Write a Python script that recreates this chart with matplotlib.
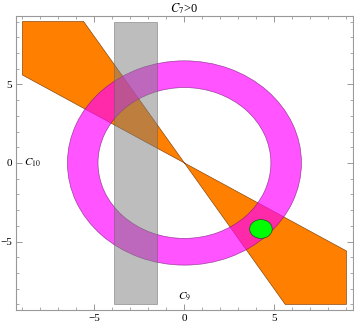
import matplotlib
matplotlib.use('Agg')
import matplotlib.pyplot as plt
from matplotlib.patches import Polygon, Rectangle, Wedge, Ellipse
from matplotlib.ticker import MultipleLocator

plt.rc('font', family='Liberation Serif', size=8)
plt.rc('mathtext', fontset='stix')

# Data ========================================================================
# orange double wedge through the origin, clipped to the [-9, 9] box
orange_x = [-9, -5.6, 5.6, 9, 9, -9]
orange_y = [9, 9, -9, -9, -5.6, 5.6]

# grey vertical band
band_x = [-3.9, -1.5]
band_y = [-9, 9]

# magenta ring
ring_center = (0.0, 0.0)
ring_r_in = 4.8
ring_r_out = 6.5

# green point
green_center = (4.25, -4.2)
green_w = 1.25
green_h = 1.2

lim = 9.36


def fmt(v, pos):
    return '%d' % v if v >= 0 else '\u2212%d' % -v


# Plot ========================================================================
fig = plt.figure(figsize=(3.54, 3.24), dpi=100)
ax = fig.add_axes([0.045, 0.043, 0.952, 0.908])

ax.add_patch(Polygon(list(zip(orange_x, orange_y)), closed=True,
                     facecolor='#ff8000', edgecolor='#8a4a10', lw=0.5, zorder=1))
ax.add_patch(Wedge(ring_center, ring_r_out, 0, 360, width=ring_r_out - ring_r_in,
                   facecolor=(1, 0, 1, 0.67), edgecolor=(0.45, 0.1, 0.45, 0.7),
                   lw=0.5, zorder=2))
ax.add_patch(Rectangle((band_x[0], band_y[0]), band_x[1] - band_x[0],
                       band_y[1] - band_y[0],
                       facecolor=(0.49, 0.49, 0.49, 0.5),
                       edgecolor=(0.35, 0.35, 0.35, 0.6), lw=0.5, zorder=3))
ax.add_patch(Ellipse(green_center, green_w, green_h, facecolor='#00ff00',
                     edgecolor='#205020', lw=0.5, zorder=4))

ax.set_xlim(-lim, lim)
ax.set_ylim(-lim, lim)

ax.xaxis.set_major_locator(MultipleLocator(5))
ax.yaxis.set_major_locator(MultipleLocator(5))
ax.xaxis.set_minor_locator(MultipleLocator(1))
ax.yaxis.set_minor_locator(MultipleLocator(1))
ax.xaxis.set_major_formatter(plt.FuncFormatter(fmt))
ax.yaxis.set_major_formatter(plt.FuncFormatter(fmt))
ax.tick_params(which='both', direction='in', top=True, right=True,
               color='#888888', labelcolor='black', labelsize=8, pad=3)
ax.tick_params(which='major', length=4, width=0.6)
ax.tick_params(which='minor', length=2, width=0.5)
for s in ax.spines.values():
    s.set_color('#999999')
    s.set_linewidth(0.8)

ax.set_title(r'$C_7$>0', fontsize=9, pad=3)
ax.text(-8.45, 0, r'$C_{10}$', fontsize=8, va='center', ha='center')
ax.text(0, -8.45, r'$C_9$', fontsize=8, va='center', ha='center')

fig.savefig('out.png', dpi=100)
plt.close()
